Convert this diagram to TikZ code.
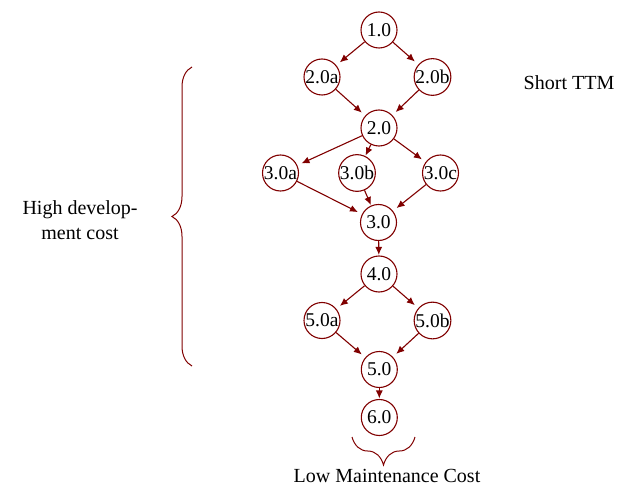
\documentclass[tikz,border=0pt]{standalone}
\usepackage{fontspec}
\setmainfont{Liberation Serif}
\usetikzlibrary{arrows.meta,decorations.pathreplacing}
\definecolor{maroon}{RGB}{128,0,0}
\tikzset{
  stage/.style={circle,draw=maroon,line width=1.1pt,minimum size=36pt,inner sep=0pt,
    font=\fontsize{19.5}{22}\selectfont,text=black},
  flow/.style={draw=maroon,line width=1.1pt,-{Latex[length=8pt,width=7pt]},shorten >=4.5pt},
  tight/.style={shorten >=0.5pt},
  bracestyle/.style={draw=maroon,line width=1pt,decorate},
  lbl/.style={font=\fontsize{20}{25}\selectfont,text=black}
}
\begin{document}
\begin{tikzpicture}[x=1pt,y=-1pt]
\useasboundingbox (0,0) rectangle (620,486);
\node[stage] (n10) at (379,30) {1.0};
\node[stage] (n20a) at (322,77) {2.0a};
\node[stage] (n20b) at (432.5,77) {2.0b};
\node[stage] (n20) at (379,128) {2.0};
\node[stage] (n30a) at (280.5,173) {3.0a};
\node[stage] (n30b) at (357,173) {3.0b};
\node[stage] (n30c) at (440.5,173) {3.0c};
\node[stage] (n30) at (378.5,222.5) {3.0};
\node[stage] (n40) at (379,274) {4.0};
\node[stage] (n50a) at (322,320.5) {5.0a};
\node[stage] (n50b) at (432.5,320.5) {5.0b};
\node[stage] (n50) at (379.3,369.5) {5.0};
\node[stage] (n60) at (379.3,417.5) {6.0};

\draw[flow] (n10) -- (n20a);
\draw[flow] (n10) -- (n20b);
\draw[flow] (n20a) -- (n20);
\draw[flow] (n20b) -- (n20);
\draw[flow] (n20) -- (n30a);
\draw[flow,tight] (n20) -- (n30b);
\draw[flow] (n20) -- (n30c);
\draw[flow] (n30a) -- (n30);
\draw[flow,tight] (n30b) -- (n30);
\draw[flow] (n30c) -- (n30);
\draw[flow,tight] (n30) -- (n40);
\draw[flow] (n40) -- (n50a);
\draw[flow] (n40) -- (n50b);
\draw[flow] (n50a) -- (n50);
\draw[flow] (n50b) -- (n50);
\draw[flow,tight] (n50) -- (n60);

\coordinate (lb1) at (192,366);
\coordinate (lb2) at (192,67);
\draw[bracestyle,decoration={brace,amplitude=20pt}] (lb1) -- (lb2);
\coordinate (bb1) at (415,437);
\coordinate (bb2) at (352,437);
\draw[bracestyle,decoration={brace,amplitude=28pt}] (bb1) -- (bb2);

\node[lbl,align=center] (high) at (80,220) {High develop-\\ment cost};
\node[lbl] (short) at (569,83) {Short TTM};
\node[lbl] (low) at (387,476) {Low Maintenance Cost};
\end{tikzpicture}
\end{document}
